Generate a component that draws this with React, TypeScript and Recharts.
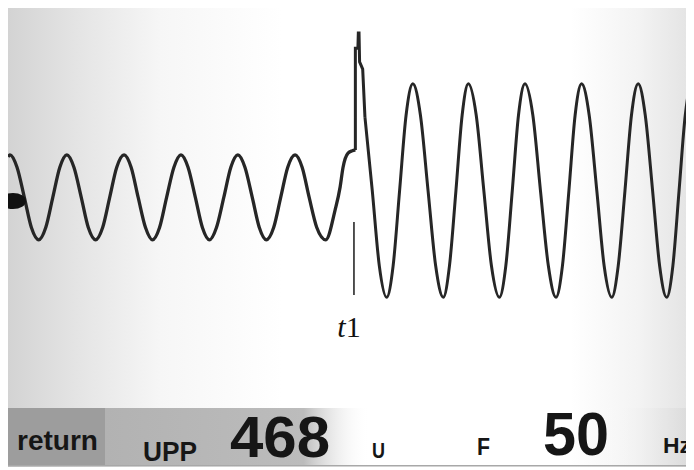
import { LineChart, Line, XAxis, YAxis, ReferenceLine, ReferenceDot } from 'recharts';

// time in ms, voltage in V
const preFaultTime = [0, 0.7, 3.2, 5.8, 8.3, 10.9, 13.4, 15.9, 18.4, 20.9, 23.4, 26.0, 28.5, 31.1, 33.6, 36.1, 38.6, 41.2, 43.7, 46.2, 48.8, 51.3, 53.8, 56.3, 58.9, 61.4, 63.9, 66.5, 69.0, 71.5, 74.0, 76.6, 79.1, 81.6, 84.1, 86.7, 89.2, 91.7, 94.3, 96.8, 99.3, 101.9, 104.4, 106.9, 109.6, 112.8, 116.1, 117.9, 118.9, 120.7, 122.2, 123.3];
const preFaultVolt = [74, 78, 51, -15, -81, -108, -81, -15, 51, 78, 51, -15, -81, -108, -81, -15, 51, 78, 51, -15, -81, -108, -81, -15, 51, 78, 51, -15, -81, -108, -81, -15, 51, 78, 51, -15, -81, -108, -81, -15, 51, 78, 51, -15, -81, -108, -43, 8, 50, 82, 87, 89];

const spikeTime = [123.3, 123.3, 124.2, 124.35, 124.6, 124.8, 125.9, 126.7];
const spikeVolt = [89, 312, 312, 345, 345, 282, 266, 161];

const postFaultTime = [126.7, 129.3, 131.8, 134.4, 136.7, 139.0, 141.3, 143.7, 146.4, 149.1, 151.8, 154.5, 156.7, 159.0, 161.2, 163.4, 166.2, 168.9, 171.6, 174.4, 176.7, 179.0, 181.2, 183.5, 186.3, 189.0, 191.8, 194.5, 196.8, 199.1, 201.3, 203.6, 206.3, 209.0, 211.6, 214.3, 216.6, 219.0, 221.3, 223.7, 226.2, 228.8, 231.3, 233.8, 236.0, 238.2, 240.4, 242.7, 243.5];
const postFaultVolt = [161, 0, -165, -234, -165, 0, 165, 234, 165, 0, -165, -234, -165, 0, 165, 234, 165, 0, -165, -234, -165, 0, 165, 234, 165, 0, -165, -234, -165, 0, 165, 234, 165, 0, -165, -234, -165, 0, 165, 234, 165, 0, -165, -234, -165, 0, 165, 234, 232];

const faultTime = 122.8;
const markerVolt = [-69, -229];
const triggerLevel = -23;

const readout = { upp: '468', upUnit: 'U', freq: '50', freqUnit: 'Hz' };

const toPoints = (ts: number[], vs: number[]) => ts.map((t, i) => ({ t, v: vs[i] }));

const preData = toPoints(preFaultTime, preFaultVolt);
const spikeData = toPoints(spikeTime, spikeVolt);
const postData = toPoints(postFaultTime, postFaultVolt);

const TRACE = '#262626';

const T1Label = (props: any) => {
  const vb = props.viewBox || {};
  const x = vb.x ?? 0;
  const y = (vb.y ?? 0) + (vb.height ?? 0);
  return (
    <text x={x - 5} y={y + 42} textAnchor="middle" fontFamily="'Liberation Serif', serif" fontSize={30} fill="#111">
      <tspan fontStyle="italic">t</tspan>1
    </text>
  );
};

const TriggerMark = (props: any) => (
  <ellipse cx={props.cx + 5} cy={props.cy} rx={13} ry={8} fill="#111" />
);

// bar svg starts 20px above the bar so big digits keep their full box
function StatusBar() {
  const font = "'Liberation Sans', Arial, sans-serif";
  const o = 20;
  return (
    <svg width={686} height={82} style={{ position: 'absolute', left: 0, top: 380 }}>
      <defs>
        <linearGradient id="midGrad" x1="0" x2="1" y1="0" y2="0">
          <stop offset="0%" stopColor="#b2b2b2" />
          <stop offset="75%" stopColor="#bcbcbc" />
          <stop offset="100%" stopColor="#ffffff" stopOpacity={0} />
        </linearGradient>
        <linearGradient id="rightGrad" x1="0" x2="1" y1="0" y2="0">
          <stop offset="0%" stopColor="#ffffff" stopOpacity={0} />
          <stop offset="100%" stopColor="#d8d8d8" />
        </linearGradient>
      </defs>
      <rect x={0} y={o} width={97} height={58} fill="#9d9d9d" />
      <rect x={97} y={o} width={265} height={58} fill="url(#midGrad)" />
      <rect x={590} y={o} width={96} height={58} fill="url(#rightGrad)" />
      <rect x={0} y={o + 57} width={686} height={1.5} fill="#a8a8a8" />
      <g fontFamily={font} fontWeight="bold" fill="#161616">
        <text x={9} y={o + 42} fontSize={28} textLength={81} lengthAdjust="spacingAndGlyphs">return</text>
        <text x={135} y={o + 53} fontSize={27} textLength={54} lengthAdjust="spacingAndGlyphs">UPP</text>
        <text x={222} y={o + 49} fontSize={57} textLength={100} lengthAdjust="spacingAndGlyphs">{readout.upp}</text>
        <text x={364} y={o + 50} fontSize={22} textLength={13} lengthAdjust="spacingAndGlyphs">{readout.upUnit}</text>
        <text x={469} y={o + 47} fontSize={23} textLength={13} lengthAdjust="spacingAndGlyphs">F</text>
        <text x={535} y={o + 47} fontSize={61} textLength={66} lengthAdjust="spacingAndGlyphs">{readout.freq}</text>
        <text x={655} y={o + 45} fontSize={22} textLength={28} lengthAdjust="spacingAndGlyphs">{readout.freqUnit}</text>
      </g>
    </svg>
  );
}

export default function App() {
  return (
    <div
      style={{
        position: 'relative',
        width: 686,
        height: 459,
        background:
          'linear-gradient(to right, #d3d3d3 0%, #e4e4e4 10%, #f6f6f6 22%, #ffffff 40%, #ffffff 82%, #f3f3f3 92%, #e2e2e2 100%)',
      }}
    >
      <LineChart width={686} height={397} margin={{ top: 0, right: 0, bottom: 0, left: 0 }}>
        <XAxis dataKey="t" type="number" domain={[0, 243.5]} allowDataOverflow hide />
        <YAxis type="number" domain={[-470, 400]} allowDataOverflow hide />
        <Line data={preData} dataKey="v" type="monotone" stroke={TRACE} strokeWidth={3.3} dot={false} isAnimationActive={false} />
        <Line data={spikeData} dataKey="v" type="linear" stroke={TRACE} strokeWidth={3} dot={false} isAnimationActive={false} />
        <Line data={postData} dataKey="v" type="monotone" stroke={TRACE} strokeWidth={3} dot={false} isAnimationActive={false} />
        <ReferenceLine
          segment={[{ x: faultTime, y: markerVolt[0] }, { x: faultTime, y: markerVolt[1] }]}
          stroke="#1a1a1a"
          strokeWidth={1.5}
          label={T1Label}
        />
        <ReferenceDot x={0} y={triggerLevel} shape={TriggerMark} ifOverflow="visible" />
      </LineChart>
      <StatusBar />
    </div>
  );
}
